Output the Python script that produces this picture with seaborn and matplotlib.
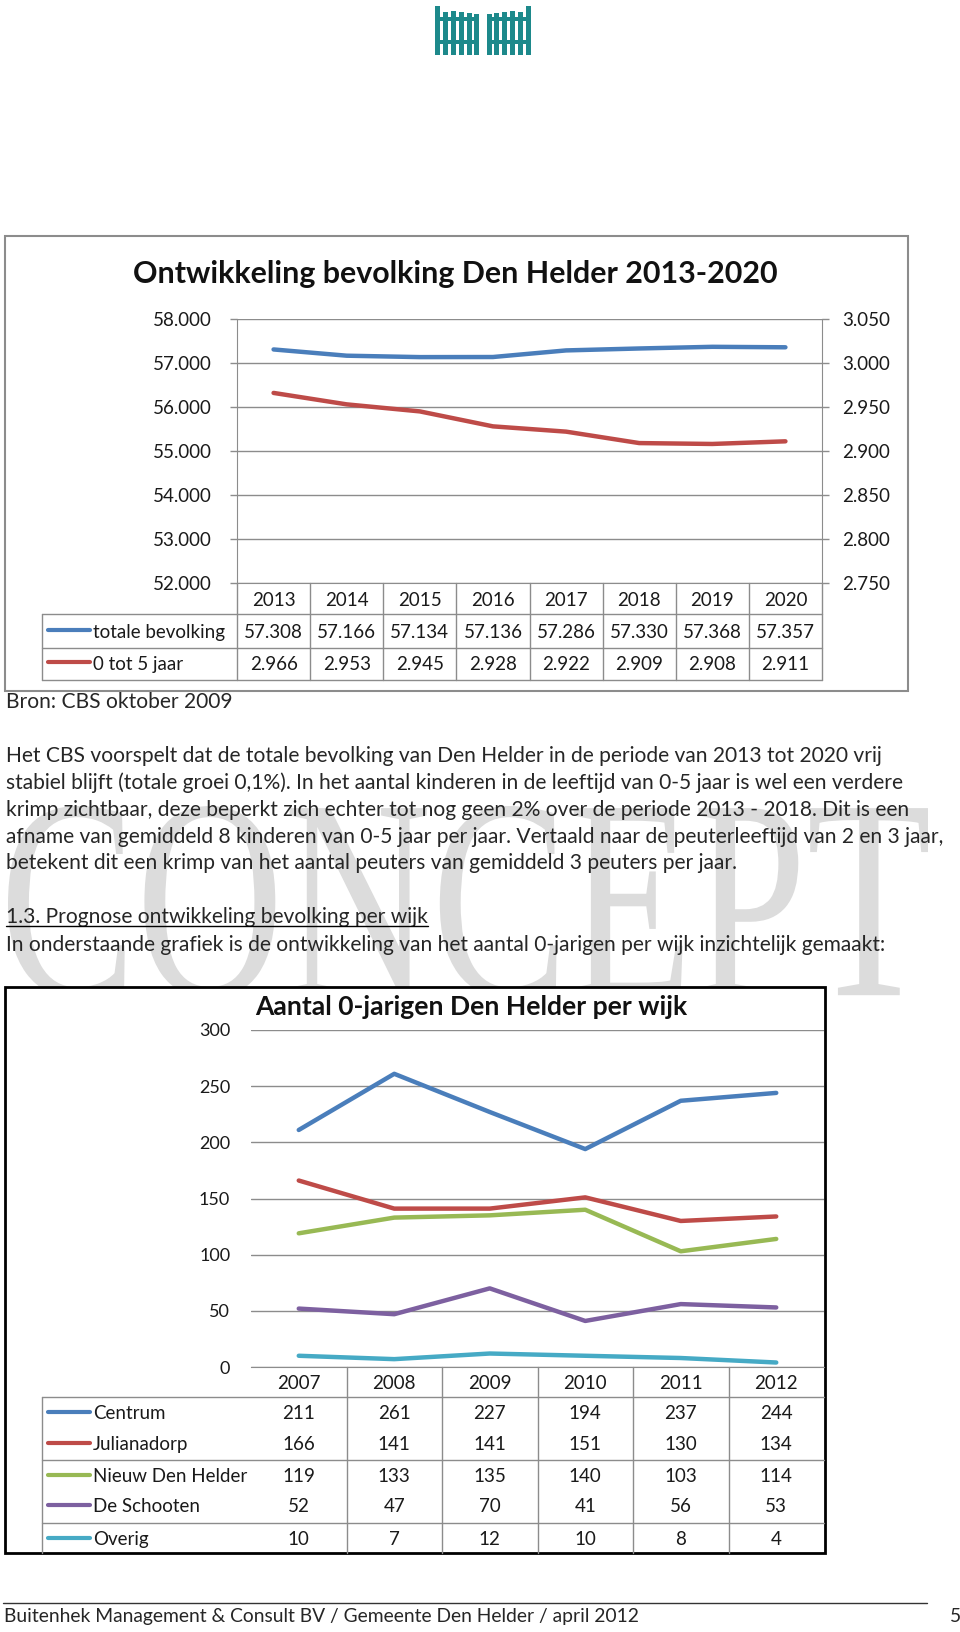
import numpy as np
import pandas as pd
import matplotlib
matplotlib.use("Agg")
import matplotlib.pyplot as plt
import seaborn as sns
from matplotlib.patches import Rectangle, PathPatch
from matplotlib.textpath import TextPath
from matplotlib.font_manager import FontProperties
from matplotlib.transforms import Affine2D, blended_transform_factory
from matplotlib.ticker import FuncFormatter, MultipleLocator

W, H = 960, 1632

# chart 1: prognose 2013-2020
jaren_prognose = ["2013", "2014", "2015", "2016", "2017", "2018", "2019", "2020"]
totale_bevolking = [57308, 57166, 57134, 57136, 57286, 57330, 57368, 57357]
nul_tot_vijf = [2966, 2953, 2945, 2928, 2922, 2909, 2908, 2911]
reeksen_prognose = ["totale bevolking", "0 tot 5 jaar"]

# chart 2: 0-jarigen per wijk
jaren_wijk = ["2007", "2008", "2009", "2010", "2011", "2012"]
wijken = ["Centrum", "Julianadorp", "Nieuw Den Helder", "De Schooten", "Overig"]
centrum = [211, 261, 227, 194, 237, 244]
julianadorp = [166, 141, 141, 151, 130, 134]
nieuw_den_helder = [119, 133, 135, 140, 103, 114]
de_schooten = [52, 47, 70, 41, 56, 53]
overig = [10, 7, 12, 10, 8, 4]

blauw, rood, groen, paars, cyaan = "#4a7ebb", "#be4b48", "#98b954", "#7d60a0", "#46aac5"
wijk_kleuren = [blauw, rood, groen, paars, cyaan]
grijs = "#8c8c8c"

paragraaf = [
    "Het CBS voorspelt dat de totale bevolking van Den Helder in de periode van 2013 tot 2020 vrij",
    "stabiel blijft (totale groei 0,1%). In het aantal kinderen in de leeftijd van 0-5 jaar is wel een verdere",
    "krimp zichtbaar, deze beperkt zich echter tot nog geen 2% over de periode 2013 - 2018. Dit is een",
    "afname van gemiddeld 8 kinderen van 0-5 jaar per jaar. Vertaald naar de peuterleeftijd van 2 en 3 jaar,",
    "betekent dit een krimp van het aantal peuters van gemiddeld 3 peuters per jaar.",
]


def nl(v, pos=None):
    return f"{v:,.0f}".replace(",", ".")


def box(x0, y0, x1, y1):
    # pixel box (top-left origin) -> figure fraction
    return [x0 / W, 1 - y1 / H, (x1 - x0) / W, (y1 - y0) / H]


sns.set_style("white")
plt.rcParams["font.family"] = ["Lato", "DejaVu Sans"]

fig = plt.figure(figsize=(W / 100, H / 100), dpi=100)
fig.patch.set_facecolor("white")
renderer = fig.canvas.get_renderer()

# page background in pixel coordinates
bg = fig.add_axes([0, 0, 1, 1], zorder=0)
bg.set_xlim(0, W)
bg.set_ylim(H, 0)
bg.axis("off")


def fit_width(txt, width):
    for _ in range(3):
        w = txt.get_window_extent(renderer).width
        txt.set_fontsize(txt.get_fontsize() * width / w)


# logo: two fence gates
teal = "#1d898b"
for x0, x1 in [(435, 478), (487, 530)]:
    bg.add_patch(Rectangle((x0, 17), x1 - x0, 4, color=teal, lw=0))
    bg.add_patch(Rectangle((x0, 40), x1 - x0, 4, color=teal, lw=0))
links = [(435, 6), (443, 12), (451, 11), (459, 12), (467, 13), (474, 14)]
rechts = [(487, 14), (494, 13), (502, 12), (510, 11), (518, 12), (526, 6)]
for px, top in links + rechts:
    bg.add_patch(Rectangle((px, top), 4.5, 55 - top, color=teal, lw=0))

# watermark
fp = FontProperties(family="Liberation Serif")
tp = TextPath((0, 0), "CONCEPT", size=100, prop=fp)
bb = tp.get_extents()
tr = (Affine2D().translate(-bb.x0, -bb.y0)
      .scale((928 - 8) / bb.width, -(998 - 806) / bb.height)
      .translate(8, 998))
bg.add_patch(PathPatch(tr.transform_path(tp), facecolor="#dcdcdc",
                       edgecolor="none", zorder=1))

# frames
bg.add_patch(Rectangle((5, 236), 903, 455, facecolor="white", edgecolor=grijs, lw=1.5, zorder=2))
bg.add_patch(Rectangle((5, 987), 820, 566, facecolor="white", edgecolor="black", lw=2, zorder=2))

# body text
body = []
body.append(bg.text(6, 708, "Bron: CBS oktober 2009", va="baseline", fontsize=13, zorder=3))
for y, s in zip([762, 789, 816, 843, 869], paragraaf):
    body.append(bg.text(6, y, s, va="baseline", fontsize=13, zorder=3))
kop = bg.text(6, 923, "1.3. Prognose ontwikkeling bevolking per wijk", va="baseline", fontsize=13, zorder=3)
body.append(kop)
body.append(bg.text(6, 951, "In onderstaande grafiek is de ontwikkeling van het aantal 0-jarigen per wijk inzichtelijk gemaakt:",
                    va="baseline", fontsize=13, zorder=3))
fit_width(body[4], 940)
for t in body:
    t.set_fontsize(body[4].get_fontsize())
kw = kop.get_window_extent(renderer).width
bg.plot([6, 6 + kw], [926, 926], color="black", lw=1, zorder=3)

# footer
bg.plot([3, 927], [1603, 1603], color="#333333", lw=1)
voet = bg.text(4, 1622, "Buitenhek Management & Consult BV / Gemeente Den Helder / april 2012",
               va="baseline", fontsize=13)
fit_width(voet, 636)
bg.text(950, 1622, "5", va="baseline", fontsize=voet.get_fontsize())

# ---------- chart 1 ----------
df1 = pd.DataFrame({"pos": np.arange(len(jaren_prognose)), "jaar": jaren_prognose,
                    "totaal": totale_bevolking, "jong": nul_tot_vijf})
ax1 = fig.add_axes(box(237, 319, 822, 583), zorder=2)
ax1.set_facecolor("none")
sns.lineplot(data=df1, x="pos", y="totaal", ax=ax1, color=blauw, lw=3.2)
ax1r = ax1.twinx()
sns.lineplot(data=df1, x="pos", y="jong", ax=ax1r, color=rood, lw=3.2)
ax1.set_xlim(-0.5, len(jaren_prognose) - 0.5)
ax1.set_ylim(52000, 58000)
ax1r.set_ylim(2750, 3050)
ax1.yaxis.set_major_locator(MultipleLocator(1000))
ax1r.yaxis.set_major_locator(MultipleLocator(50))
ax1.yaxis.set_major_formatter(FuncFormatter(nl))
ax1r.yaxis.set_major_formatter(FuncFormatter(nl))
ax1.grid(axis="y", color=grijs, lw=1)
ax1.set_axisbelow(True)
for a in (ax1, ax1r):
    a.set_xlabel("")
    a.set_ylabel("")
    a.set_xticks([])
    for s in a.spines.values():
        s.set_visible(False)
ax1.spines["left"].set_visible(True)
ax1.spines["left"].set_color(grijs)
ax1.spines["bottom"].set_visible(True)
ax1.spines["bottom"].set_color(grijs)
ax1r.spines["right"].set_visible(True)
ax1r.spines["right"].set_color(grijs)
ax1.tick_params(axis="y", left=True, length=5, width=1, color=grijs, pad=13,
                labelsize=13.5, labelcolor="#1a1a1a")
ax1r.tick_params(axis="y", right=True, length=5, width=1, color=grijs, pad=9.5,
                 labelsize=13.5, labelcolor="#1a1a1a")

# table under chart 1
t1 = blended_transform_factory(ax1.transData, bg.transData)
for k in np.arange(len(jaren_prognose) + 1) - 0.5:
    ax1.plot([k, k], [583, 680], transform=t1, color=grijs, lw=1, clip_on=False)
for y in [614, 648, 680]:
    ax1.plot([42, 822], [y, y], transform=bg.transData, color=grijs, lw=1, clip_on=False)
ax1.plot([42, 42], [614, 680], transform=bg.transData, color=grijs, lw=1, clip_on=False)
for i, jaar in enumerate(jaren_prognose):
    ax1.text(i, 606, jaar, transform=t1, ha="center", va="baseline", fontsize=13.5, color="#1a1a1a")
for naam, waarden, kleur, y in zip(reeksen_prognose, [totale_bevolking, nul_tot_vijf],
                                   [blauw, rood], [638, 670]):
    ax1.plot([48, 90], [y - 8, y - 8], transform=bg.transData, color=kleur, lw=3, clip_on=False)
    ax1.text(93, y, naam, transform=bg.transData, va="baseline", fontsize=13.5, color="#1a1a1a")
    for i, v in enumerate(waarden):
        ax1.text(i, y, nl(v), transform=t1, ha="center", va="baseline", fontsize=13.5, color="#1a1a1a")

titel1 = bg.text(455, 283, "Ontwikkeling bevolking Den Helder 2013-2020", ha="center", va="baseline",
                 fontsize=22, fontweight="bold", color="#111111", zorder=3)
fit_width(titel1, 645)

# ---------- chart 2 ----------
reeksen = [centrum, julianadorp, nieuw_den_helder, de_schooten, overig]
df2 = pd.DataFrame({
    "pos": np.tile(np.arange(len(jaren_wijk)), len(wijken)),
    "wijk": np.repeat(wijken, len(jaren_wijk)),
    "aantal": np.concatenate(reeksen),
})
ax2 = fig.add_axes(box(251, 1030, 824, 1367), zorder=2)
ax2.set_facecolor("none")
sns.lineplot(data=df2, x="pos", y="aantal", hue="wijk", hue_order=wijken,
             palette=dict(zip(wijken, wijk_kleuren)), lw=3.2, legend=False, ax=ax2)
ax2.set_xlim(-0.5, len(jaren_wijk) - 0.5)
ax2.set_ylim(0, 300)
ax2.yaxis.set_major_locator(MultipleLocator(50))
ax2.grid(axis="y", color=grijs, lw=1)
ax2.set_axisbelow(True)
ax2.set_xlabel("")
ax2.set_ylabel("")
ax2.set_xticks([])
for s in ax2.spines.values():
    s.set_visible(False)
ax2.spines["bottom"].set_visible(True)
ax2.spines["bottom"].set_color(grijs)
ax2.tick_params(axis="y", length=0, pad=15, labelsize=13, labelcolor="#1a1a1a")

t2 = blended_transform_factory(ax2.transData, bg.transData)
for k in np.arange(1, len(jaren_wijk)) - 0.5:
    ax2.plot([k, k], [1367, 1553], transform=t2, color=grijs, lw=1, clip_on=False)
for y in [1397, 1460, 1523]:
    ax2.plot([42, 824], [y, y], transform=bg.transData, color=grijs, lw=1, clip_on=False)
ax2.plot([42, 42], [1397, 1553], transform=bg.transData, color=grijs, lw=1, clip_on=False)
for i, jaar in enumerate(jaren_wijk):
    ax2.text(i, 1389, jaar, transform=t2, ha="center", va="baseline", fontsize=13.5, color="#1a1a1a")
for naam, waarden, kleur, y in zip(wijken, reeksen, wijk_kleuren, [1419, 1450, 1482, 1512, 1545]):
    ax2.plot([48, 90], [y - 7, y - 7], transform=bg.transData, color=kleur, lw=3, clip_on=False)
    ax2.text(93, y, naam, transform=bg.transData, va="baseline", fontsize=13.5, color="#1a1a1a")
    for i, v in enumerate(waarden):
        ax2.text(i, y, str(v), transform=t2, ha="center", va="baseline", fontsize=13.5, color="#1a1a1a")

titel2 = bg.text(471, 1015, "Aantal 0-jarigen Den Helder per wijk", ha="center", va="baseline",
                 fontsize=18, fontweight="bold", color="#111111", zorder=3)
fit_width(titel2, 433)

fig.savefig("out.png", dpi=100)
